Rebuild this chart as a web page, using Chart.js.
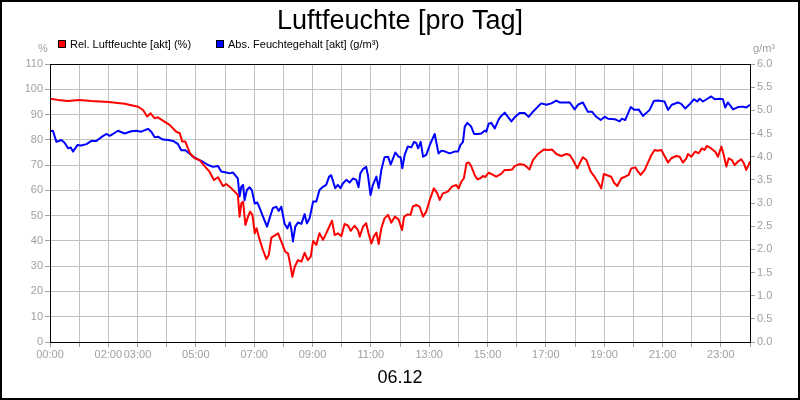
<!DOCTYPE html>
<html>
<head>
<meta charset="utf-8">
<title>Luftfeuchte [pro Tag]</title>
<script src="https://cdn.jsdelivr.net/npm/chart.js@4/dist/chart.umd.min.js"></script>
<style>
  html, body { margin: 0; padding: 0; background: #fff; }
  #wrap { width: 800px; height: 400px; position: relative; }
</style>
</head>
<body>
<div id="wrap"><canvas id="chart" width="800" height="400"></canvas></div>
<script>
const relHours = [
  0.00, 0.27, 0.62, 1.00, 1.42, 2.01, 2.56, 3.02, 3.19, 3.33, 3.45, 3.59, 3.70, 3.87, 4.10, 4.33, 4.45, 4.53, 4.64, 4.73,
  4.80, 4.96, 5.13, 5.30, 5.47, 5.62, 5.76, 5.93, 6.04, 6.22, 6.33, 6.44, 6.50, 6.56, 6.62, 6.70, 6.79, 6.86, 6.94, 7.02,
  7.08, 7.19, 7.30, 7.42, 7.50, 7.59, 7.70, 7.82, 7.93, 8.07, 8.16, 8.23, 8.31, 8.39, 8.50, 8.62, 8.73, 8.84, 8.94, 9.02,
  9.13, 9.24, 9.36, 9.47, 9.60, 9.67, 9.76, 9.87, 9.99, 10.10, 10.22, 10.31, 10.44, 10.56, 10.62, 10.73, 10.84, 10.92, 11.02, 11.10,
  11.19, 11.27, 11.36, 11.47, 11.59, 11.70, 11.82, 11.95, 12.07, 12.14, 12.27, 12.36, 12.44, 12.56, 12.67, 12.79, 12.90, 13.02, 13.16, 13.28,
  13.36, 13.47, 13.64, 13.78, 13.93, 14.01, 14.10, 14.19, 14.28, 14.36, 14.44, 14.56, 14.65, 14.76, 14.84, 14.92, 15.04, 15.19, 15.30, 15.47,
  15.59, 15.72, 15.85, 15.93, 16.10, 16.27, 16.44, 16.56, 16.73, 16.94, 17.07, 17.21, 17.36, 17.53, 17.70, 17.82, 17.93, 18.08, 18.16, 18.27,
  18.39, 18.54, 18.67, 18.81, 18.90, 18.99, 19.08, 19.24, 19.34, 19.45, 19.59, 19.72, 19.84, 19.93, 20.07, 20.16, 20.25, 20.39, 20.50, 20.62,
  20.73, 20.84, 20.96, 21.07, 21.19, 21.30, 21.47, 21.59, 21.70, 21.82, 21.87, 21.99, 22.12, 22.24, 22.35, 22.44, 22.52, 22.67, 22.81, 22.90,
  23.02, 23.10, 23.19, 23.27, 23.38, 23.47, 23.59, 23.70, 23.79, 23.87, 23.95, 24.00
];
const relHum = [
  96.3, 95.8, 95.4, 95.8, 95.4, 95.0, 94.3, 93.1, 91.8, 89.2, 90.5, 88.5, 88.9, 87.6, 85.9, 83.2, 82.6, 79.3, 79.3, 76.6,
  74.7, 72.7, 72.0, 69.6, 67.4, 64.1, 65.2, 61.7, 62.5, 60.8, 59.5, 58.2, 49.6, 54.9, 55.5, 46.3, 49.6, 51.6, 50.3, 43.0,
  45.0, 40.4, 36.4, 32.8, 34.4, 41.3, 42.1, 43.0, 39.7, 35.7, 35.1, 31.1, 25.8, 29.8, 32.4, 31.8, 35.3, 32.4, 33.8, 40.0,
  38.4, 43.0, 40.4, 43.0, 46.3, 48.0, 42.3, 43.0, 41.9, 46.7, 46.0, 44.0, 46.0, 44.3, 41.7, 45.6, 47.0, 43.0, 39.0, 41.7,
  43.3, 38.8, 45.0, 48.9, 50.3, 47.2, 49.6, 48.5, 44.3, 49.6, 50.5, 50.3, 53.6, 54.2, 53.6, 49.6, 51.6, 56.2, 60.8, 58.8,
  56.2, 58.8, 59.5, 61.5, 62.1, 60.8, 63.4, 64.8, 70.7, 71.0, 69.6, 66.1, 64.4, 64.8, 65.7, 65.2, 67.0, 66.1, 65.4, 66.5,
  68.1, 68.1, 68.3, 69.6, 70.4, 70.0, 68.3, 72.0, 74.4, 76.2, 76.0, 76.2, 74.4, 73.6, 74.4, 74.0, 72.0, 68.7, 70.7, 73.1,
  72.0, 67.4, 65.4, 62.8, 60.8, 66.5, 66.1, 65.4, 63.0, 61.7, 64.8, 65.4, 66.1, 68.7, 69.1, 67.4, 66.1, 68.1, 71.0, 74.0,
  76.0, 75.7, 76.0, 73.6, 71.0, 72.7, 73.6, 73.3, 71.0, 72.7, 74.4, 73.3, 75.3, 74.7, 76.6, 76.0, 77.6, 76.6, 75.3, 73.3,
  77.3, 74.0, 69.4, 72.7, 72.0, 70.0, 71.4, 72.3, 70.7, 68.1, 70.0, 71.4
];

const absHours = [
  0.00, 0.10, 0.22, 0.39, 0.50, 0.62, 0.71, 0.79, 0.94, 1.07, 1.25, 1.42, 1.59, 1.76, 1.93, 2.05, 2.16, 2.33, 2.56, 2.79,
  2.96, 3.13, 3.36, 3.47, 3.59, 3.70, 3.87, 4.05, 4.22, 4.39, 4.50, 4.64, 4.80, 4.90, 5.07, 5.24, 5.42, 5.59, 5.76, 5.87,
  6.04, 6.16, 6.27, 6.39, 6.44, 6.50, 6.56, 6.62, 6.67, 6.75, 6.84, 6.92, 7.02, 7.11, 7.19, 7.30, 7.44, 7.53, 7.64, 7.76,
  7.84, 7.93, 8.04, 8.14, 8.22, 8.27, 8.33, 8.41, 8.50, 8.62, 8.73, 8.81, 8.90, 9.02, 9.13, 9.24, 9.36, 9.47, 9.57, 9.64,
  9.78, 9.87, 9.96, 10.04, 10.16, 10.27, 10.39, 10.50, 10.58, 10.64, 10.73, 10.84, 10.90, 10.99, 11.07, 11.19, 11.27, 11.36, 11.47, 11.59,
  11.68, 11.76, 11.84, 11.95, 12.02, 12.08, 12.16, 12.27, 12.39, 12.48, 12.56, 12.62, 12.71, 12.79, 12.90, 13.02, 13.19, 13.32, 13.42, 13.55,
  13.70, 13.87, 13.99, 14.07, 14.16, 14.22, 14.31, 14.44, 14.54, 14.67, 14.79, 14.90, 14.96, 15.04, 15.13, 15.25, 15.39, 15.47, 15.59, 15.70,
  15.82, 15.93, 16.10, 16.27, 16.41, 16.56, 16.73, 16.84, 17.02, 17.19, 17.36, 17.47, 17.64, 17.82, 17.99, 18.10, 18.27, 18.44, 18.58, 18.73,
  18.88, 19.02, 19.13, 19.36, 19.53, 19.61, 19.72, 19.91, 20.04, 20.18, 20.33, 20.44, 20.56, 20.70, 20.84, 21.07, 21.19, 21.32, 21.53, 21.64,
  21.78, 21.93, 22.08, 22.19, 22.27, 22.39, 22.54, 22.67, 22.79, 22.96, 23.07, 23.15, 23.24, 23.42, 23.59, 23.76, 23.87, 24.00
];
const absHum = [
  4.55, 4.56, 4.32, 4.36, 4.30, 4.18, 4.20, 4.11, 4.25, 4.24, 4.27, 4.34, 4.34, 4.42, 4.49, 4.45, 4.49, 4.56, 4.50, 4.55,
  4.56, 4.54, 4.60, 4.54, 4.42, 4.43, 4.37, 4.36, 4.34, 4.27, 4.14, 4.14, 4.06, 4.00, 3.94, 3.89, 3.82, 3.78, 3.80, 3.68,
  3.66, 3.64, 3.66, 3.57, 3.53, 3.14, 3.35, 3.39, 3.06, 3.28, 3.34, 3.28, 2.99, 3.01, 2.89, 2.71, 2.49, 2.67, 2.89, 2.92,
  2.83, 2.92, 2.56, 2.45, 2.58, 2.45, 2.17, 2.49, 2.58, 2.55, 2.76, 2.56, 2.67, 3.03, 3.03, 3.28, 3.35, 3.39, 3.57, 3.60,
  3.32, 3.39, 3.32, 3.42, 3.50, 3.44, 3.53, 3.50, 3.34, 3.64, 3.73, 3.78, 3.60, 3.17, 3.39, 3.57, 3.32, 3.71, 3.99, 4.00,
  3.83, 3.96, 4.09, 4.00, 3.99, 3.75, 4.04, 4.22, 4.20, 4.32, 4.29, 4.18, 4.32, 4.00, 4.04, 4.25, 4.49, 4.07, 4.13, 4.11,
  4.07, 4.11, 4.11, 4.25, 4.32, 4.65, 4.73, 4.65, 4.49, 4.49, 4.50, 4.56, 4.54, 4.71, 4.73, 4.61, 4.81, 4.88, 4.95, 4.86,
  4.76, 4.85, 4.94, 4.94, 4.86, 4.97, 5.08, 5.15, 5.12, 5.15, 5.21, 5.17, 5.17, 5.17, 5.02, 5.12, 5.17, 4.97, 4.97, 4.86,
  4.79, 4.86, 4.82, 4.81, 4.76, 4.82, 4.79, 5.07, 5.01, 5.02, 4.88, 4.94, 5.01, 5.20, 5.21, 5.19, 5.01, 5.12, 5.17, 5.14,
  5.04, 5.13, 5.24, 5.19, 5.25, 5.19, 5.25, 5.30, 5.24, 5.25, 5.24, 5.06, 5.17, 5.02, 5.07, 5.08, 5.06, 5.12
];

// beschriftete Stunden auf der Zeitachse
const labeledHours = [0, 2, 3, 5, 7, 9, 11, 13, 15, 17, 19, 21, 23];

const chartTitle = 'Luftfeuchte [pro Tag]';
const dateLabel = '06.12';
const seriesNames = ['Rel. Luftfeuchte [akt] (%)', 'Abs. Feuchtegehalt [akt] (g/m³)'];
const seriesColors = ['#ff0000', '#0000ff'];

const FONT = '"Liberation Sans", Arial, sans-serif';
const AXIS_GREY = '#a0a0a0';
const GRID_GREY = '#c0c0c0';

function toPoints(xs, ys) {
  return xs.map((x, i) => ({ x, y: ys[i] }));
}

function pad2(n) {
  return (n < 10 ? '0' : '') + n;
}

/**
 * Rahmen, Titel, Legende und Einheiten zeichnen
 */
const framePlugin = {
  id: 'frame',
  afterDraw(chart) {
    const { ctx, chartArea: a } = chart;
    ctx.save();

    // Plotrahmen
    ctx.strokeStyle = '#000';
    ctx.lineWidth = 1;
    ctx.strokeRect(Math.round(a.left) + 0.5, Math.round(a.top) + 0.5,
      Math.round(a.right - a.left), Math.round(a.bottom - a.top));

    // Bildrahmen
    ctx.lineWidth = 2;
    ctx.strokeRect(1, 1, chart.width - 2, chart.height - 2);

    // Titel
    ctx.fillStyle = '#000';
    ctx.textAlign = 'center';
    ctx.textBaseline = 'alphabetic';
    ctx.font = '27px ' + FONT;
    ctx.fillText(chartTitle, chart.width / 2, 29);

    // Datum unten
    ctx.font = '18px ' + FONT;
    ctx.fillText(dateLabel, chart.width / 2, 383);

    // Legende
    ctx.font = '11px ' + FONT;
    ctx.textAlign = 'left';
    const legendX = [58, 216];
    seriesNames.forEach((name, i) => {
      ctx.fillStyle = seriesColors[i];
      ctx.fillRect(legendX[i], 40, 8, 8);
      ctx.strokeStyle = '#000';
      ctx.lineWidth = 1;
      ctx.strokeRect(legendX[i] + 0.5, 40.5, 7, 7);
      ctx.fillStyle = '#000';
      ctx.fillText(name, legendX[i] + 12, 48);
    });

    // Einheiten
    ctx.fillStyle = AXIS_GREY;
    ctx.textAlign = 'center';
    ctx.fillText('%', 43, 52);
    ctx.textAlign = 'left';
    ctx.fillText('g/m³', 753, 52);

    ctx.restore();
  }
};

const tickFont = { family: FONT, size: 11 };

new Chart(document.getElementById('chart'), {
  type: 'line',
  data: {
    datasets: [
      {
        label: seriesNames[0],
        data: toPoints(relHours, relHum),
        borderColor: seriesColors[0],
        yAxisID: 'y'
      },
      {
        label: seriesNames[1],
        data: toPoints(absHours, absHum),
        borderColor: seriesColors[1],
        yAxisID: 'y1'
      }
    ]
  },
  options: {
    responsive: false,
    animation: false,
    layout: { padding: { top: 64, left: 0, right: 0, bottom: 0 } },
    elements: {
      line: { borderWidth: 2, tension: 0, borderJoinStyle: 'round' },
      point: { radius: 0 }
    },
    plugins: {
      legend: { display: false },
      title: { display: false },
      tooltip: { enabled: false }
    },
    scales: {
      x: {
        type: 'linear',
        min: 0,
        max: 24,
        afterFit(scale) { scale.height = 58; },
        ticks: {
          stepSize: 1,
          autoSkip: false,
          maxRotation: 0,
          color: AXIS_GREY,
          font: tickFont,
          padding: 1,
          callback: (v) => (labeledHours.includes(v) ? pad2(v) + ':00' : '')
        },
        grid: { color: GRID_GREY, tickLength: 5, tickColor: AXIS_GREY },
        border: { color: '#000' }
      },
      y: {
        position: 'left',
        min: 0,
        max: 110,
        afterFit(scale) { scale.width = 50; },
        ticks: { stepSize: 10, color: AXIS_GREY, font: tickFont, padding: 2 },
        grid: { color: GRID_GREY, tickLength: 5, tickColor: AXIS_GREY },
        border: { color: '#000' }
      },
      y1: {
        position: 'right',
        min: 0,
        max: 6,
        afterFit(scale) { scale.width = 50; },
        ticks: {
          stepSize: 0.5,
          color: AXIS_GREY,
          font: tickFont,
          padding: 2,
          callback: (v) => v.toFixed(1)
        },
        grid: { drawOnChartArea: false, tickLength: 5, tickColor: AXIS_GREY },
        border: { color: '#000' }
      }
    }
  },
  plugins: [framePlugin]
});
</script>
</body>
</html>
